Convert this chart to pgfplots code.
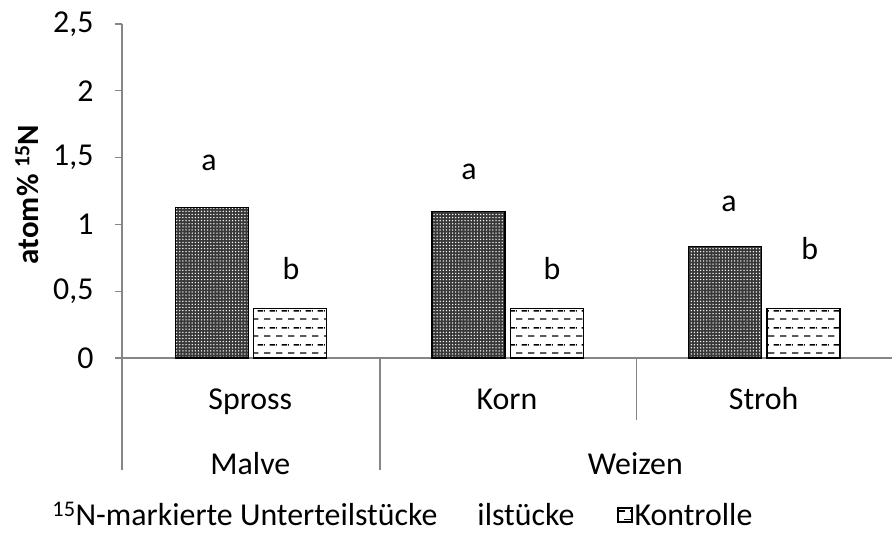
\documentclass[border=0pt]{standalone}
\usepackage{fontspec}
\setmainfont{Carlito}
\usepackage{pgfplots}
\pgfplotsset{compat=1.18}
\usetikzlibrary{patterns,patterns.meta}

\definecolor{axgray}{RGB}{134,134,134}

% dashed rows, staggered, as in the control bars
\tikzdeclarepattern{
  name=hdash,
  type=uncolored,
  bounding box={(0,0) and (12bp,16.6bp)},
  tile size={(12bp,16.6bp)},
  code={
    \draw[line width=1.4bp] (0,4bp) -- (7bp,4bp);
    \draw[line width=1.4bp] (6bp,12.3bp) -- (12bp,12.3bp);
    \draw[line width=1.4bp] (0,12.3bp) -- (1bp,12.3bp);
  }
}

\newcommand{\bigf}{\fontsize{32}{38}\selectfont}

\begin{document}
\begin{tikzpicture}
\useasboundingbox (0,0) rectangle (892bp,540bp);
\begin{axis}[
    at={(122bp,182bp)}, anchor=south west,
    scale only axis,
    width=770bp, height=334bp,
    xmin=0, xmax=3,
    ymin=0, ymax=2.5,
    clip=false,
    axis x line*=bottom,
    axis y line*=left,
    axis line style={axgray, line width=1.3bp, -},
    xtick=\empty,
    ytick={0,0.5,...,2.5},
    tick align=outside,
    major tick length=7bp,
    y tick style={axgray, line width=1.3bp},
    tick label style={font=\bigf},
    /pgf/number format/use comma,
    /pgf/number format/assume math mode=true,
    yticklabel style={xshift=-18bp},
    ylabel={\textbf{atom\% \textsuperscript{15}N}},
    ylabel style={font=\fontsize{31}{36}\selectfont, at={(rel axis cs:0,0.49)}, anchor=center, yshift=95bp},
    legend columns=2,
    legend style={font=\bigf, draw=none, fill=none,
        at={(rel axis cs:-0.097,-0.47)}, anchor=west,
        /tikz/every even column/.append style={column sep=0bp}},
]
% 15N-markierte Unterteilstuecke
\addplot[ybar, bar width=0.284, bar shift=-0.15, forget plot,
    draw=black, line width=1.3bp,
    fill=black!78,
    postaction={pattern={Dots[radius=0.75bp, distance=3.1bp]}, pattern color=white}]
    coordinates {(0.5,1.125) (1.5,1.095) (2.5,0.835)};
\addlegendimage{empty legend}
\addlegendentry{\textsuperscript{15}N-markierte Unterteilstücke\hspace{40bp}ilstücke\rule{41bp}{0pt}}
% Kontrolle
\addplot[ybar, bar width=0.284, bar shift=0.155,
    draw=black, line width=1.3bp, fill=white,
    postaction={pattern=hdash},
    legend image code/.code={
        \draw[line width=1.2bp, fill=white, postaction={pattern=hdash}]
            (0bp,-7bp) rectangle (14bp,7bp);}]
    coordinates {(0.5,0.372) (1.5,0.37) (2.5,0.372)};
\addlegendentry{Kontrolle}

% significance letters
\node[font=\bigf, anchor=base] at (axis cs:0.339,1.48) [yshift=-10bp] {a};
\node[font=\bigf, anchor=base] at (axis cs:0.658,0.67) [yshift=-11bp] {b};
\node[font=\bigf, anchor=base] at (axis cs:1.352,1.41) [yshift=-10bp] {a};
\node[font=\bigf, anchor=base] at (axis cs:1.675,0.67) [yshift=-11bp] {b};
\node[font=\bigf, anchor=base] at (axis cs:2.365,1.175) [yshift=-10bp] {a};
\node[font=\bigf, anchor=base] at (axis cs:2.68,0.82) [yshift=-11bp] {b};

% category separators below the axis
\draw[axgray, line width=1.3bp] (axis cs:0,0) -- ++(0,-112bp);
\draw[axgray, line width=1.3bp] (axis cs:1.005,0) -- ++(0,-112bp);
\draw[axgray, line width=1.3bp] (axis cs:2.005,0) -- ++(0,-62bp);

% category labels
\node[font=\bigf, anchor=base] at (axis cs:0.5,0) [yshift=-51bp] {Spross};
\node[font=\bigf, anchor=base] at (axis cs:1.5,0) [yshift=-51bp] {Korn};
\node[font=\bigf, anchor=base] at (axis cs:2.5,0) [yshift=-51bp] {Stroh};
\node[font=\bigf, anchor=base] at (axis cs:0.5,0) [yshift=-116bp] {Malve};
\node[font=\bigf, anchor=base] at (axis cs:2.0,0) [yshift=-116bp] {Weizen};
\end{axis}
\end{tikzpicture}
\end{document}
